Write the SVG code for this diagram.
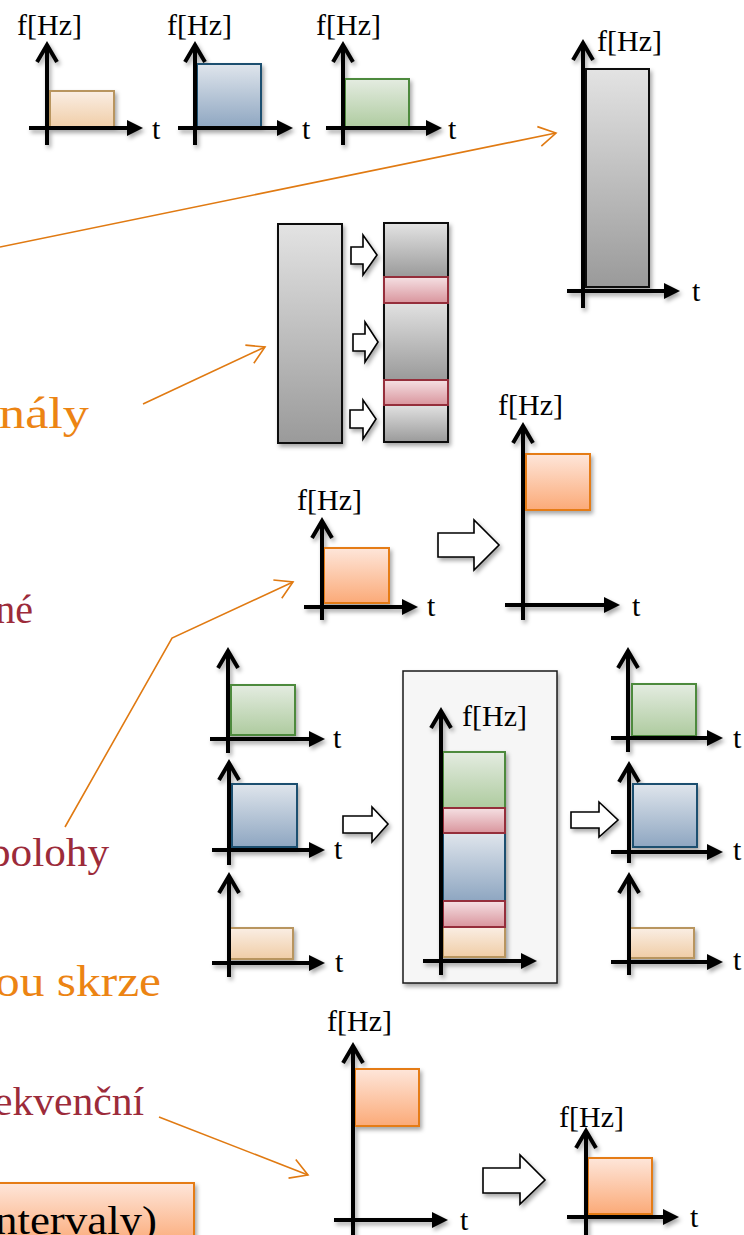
<svg xmlns="http://www.w3.org/2000/svg" width="744" height="1235" viewBox="0 0 744 1235">
  <defs>
    <style>
      .ax { fill: none; stroke: #000; stroke-width: 4; stroke-linejoin: miter; }
      .tri { fill: #000; }
      .lbl { font-family: "Liberation Serif", "Times New Roman", serif; font-size: 30px; fill: #000; }
      .bul { font-family: "Liberation Serif", "Times New Roman", serif; font-size: 40px; }
      .big { font-size: 44px; }
      .or { fill: #ec8413; }
      .rd { fill: #9c2b3a; }
      .blk { fill: #fff; stroke: #000; stroke-width: 1.6; stroke-linejoin: miter; }
      .beige { fill: url(#gBeige); stroke: #b8955e; stroke-width: 2; }
      .blue { fill: url(#gBlue); stroke: #1f4f70; stroke-width: 2; }
      .green { fill: url(#gGreen); stroke: #4e8a3e; stroke-width: 2; }
      .gray { fill: url(#gGray); stroke: #111; stroke-width: 2; }
      .red { fill: url(#gRed); stroke: #952d3a; stroke-width: 2; }
      .orange { fill: url(#gOrange); stroke: #e57c14; stroke-width: 2; }
      .con { fill: none; stroke: #e07a12; stroke-width: 1.6; marker-end: url(#oa); }
    </style>
    <linearGradient id="gBeige" x1="0" y1="0" x2="0" y2="1"><stop offset="0" stop-color="#faeee4"/><stop offset="1" stop-color="#f0cda6"/></linearGradient>
    <linearGradient id="gBlue" x1="0" y1="0" x2="0" y2="1"><stop offset="0" stop-color="#dfe5ec"/><stop offset="1" stop-color="#8ea6c1"/></linearGradient>
    <linearGradient id="gGreen" x1="0" y1="0" x2="0" y2="1"><stop offset="0" stop-color="#e4ece1"/><stop offset="1" stop-color="#aecb9f"/></linearGradient>
    <linearGradient id="gGray" x1="0" y1="0" x2="0" y2="1"><stop offset="0" stop-color="#e3e3e3"/><stop offset="1" stop-color="#9a9a9a"/></linearGradient>
    <linearGradient id="gRed" x1="0" y1="0" x2="0" y2="1"><stop offset="0" stop-color="#f5e0e3"/><stop offset="1" stop-color="#d9959d"/></linearGradient>
    <linearGradient id="gOrange" x1="0" y1="0" x2="0" y2="1"><stop offset="0" stop-color="#fee6da"/><stop offset="1" stop-color="#fbaa78"/></linearGradient>
    <filter id="sh" x="-20%" y="-20%" width="150%" height="150%">
      <feDropShadow dx="2" dy="3" stdDeviation="2" flood-color="#000" flood-opacity="0.35"/>
    </filter>
    <marker id="oa" markerUnits="userSpaceOnUse" markerWidth="24" markerHeight="24" refX="20" refY="12" orient="auto" viewBox="0 0 24 24">
      <path d="M3,2 L20,12 L3,22" fill="none" stroke="#e07a12" stroke-width="1.6"/>
    </marker>
  </defs>

  <!-- bullet text fragments -->
  <g id="bullets" class="bul">
    <text class="or big" x="89" y="428" text-anchor="end" textLength="90" lengthAdjust="spacingAndGlyphs">nály</text>
    <text class="rd" x="33" y="623" text-anchor="end">né</text>
    <text class="rd" x="109" y="866" text-anchor="end" textLength="120" lengthAdjust="spacingAndGlyphs">polohy</text>
    <text class="or big" x="161" y="996" text-anchor="end" textLength="166" lengthAdjust="spacingAndGlyphs">ou skrze</text>
    <text class="rd" x="144" y="1115" text-anchor="end" textLength="150" lengthAdjust="spacingAndGlyphs">ekvenční</text>
  </g>

  <g id="note-box">
    <rect x="-5" y="1183" width="199" height="62" fill="url(#gOrange)" stroke="#e57c14" stroke-width="2" filter="url(#sh)"/>
    <text class="bul" x="157" y="1234" text-anchor="end" fill="#000" textLength="162" lengthAdjust="spacingAndGlyphs">ntervaly)</text>
  </g>

  <!-- three separate signals -->
  <g id="sig-beige" filter="url(#sh)">
    <rect class="beige" x="50" y="91" width="64" height="37"/>
    <path class="ax" d="M47,145V45M37,62L47,45L57,62M29,128H131"/>
    <path class="tri" d="M143,128L127,120L127,136Z"/>
  </g>
  <text class="lbl" x="17" y="35">f[Hz]</text>
  <text class="lbl" x="152" y="139">t</text>

  <g id="sig-blue" filter="url(#sh)">
    <rect class="blue" x="197" y="64" width="64" height="64"/>
    <path class="ax" d="M195,145V45M185,62L195,45L205,62M178,128H281"/>
    <path class="tri" d="M293,128L277,120L277,136Z"/>
  </g>
  <text class="lbl" x="167" y="35">f[Hz]</text>
  <text class="lbl" x="302" y="139">t</text>

  <g id="sig-green" filter="url(#sh)">
    <rect class="green" x="345" y="79" width="64" height="49"/>
    <path class="ax" d="M343,145V45M333,62L343,45L353,62M326,128H430"/>
    <path class="tri" d="M442,128L426,120L426,136Z"/>
  </g>
  <text class="lbl" x="316" y="35">f[Hz]</text>
  <text class="lbl" x="448" y="139">t</text>

  <!-- wide band channel -->
  <g id="band" filter="url(#sh)">
    <rect class="gray" x="586" y="69" width="63" height="218"/>
    <path class="ax" d="M583,308V43M573,60L583,43L593,60M567,291H668"/>
    <path class="tri" d="M680,291L664,283L664,299Z"/>
  </g>
  <text class="lbl" x="597" y="51">f[Hz]</text>
  <text class="lbl" x="692" y="301">t</text>

  <!-- band split into sub-channels -->
  <g id="split" filter="url(#sh)">
    <rect class="gray" x="278" y="224" width="64" height="219"/>
    <rect class="gray" x="384" y="223" width="64" height="54"/>
    <rect class="gray" x="384" y="301" width="64" height="79"/>
    <rect class="gray" x="384" y="404" width="64" height="38"/>
    <rect class="red" x="384" y="277" width="64" height="26"/>
    <rect class="red" x="384" y="380" width="64" height="25"/>
  </g>

  <!-- frequency shift -->
  <g id="shift-in" filter="url(#sh)">
    <rect class="orange" x="324" y="548" width="65" height="55"/>
    <path class="ax" d="M322,620V521M312,538L322,521L332,538M304,607H406"/>
    <path class="tri" d="M418,607L402,599L402,615Z"/>
  </g>
  <text class="lbl" x="297" y="510">f[Hz]</text>
  <text class="lbl" x="427" y="616">t</text>

  <g id="shift-out" filter="url(#sh)">
    <rect class="orange" x="526" y="454" width="64" height="56"/>
    <path class="ax" d="M523,620V426M513,443L523,426L533,443M505,605H608"/>
    <path class="tri" d="M620,605L604,597L604,613Z"/>
  </g>
  <text class="lbl" x="498" y="415">f[Hz]</text>
  <text class="lbl" x="632" y="616">t</text>

  <!-- multiplexing inputs -->
  <g id="mux-green" filter="url(#sh)">
    <rect class="green" x="231" y="685" width="64" height="50"/>
    <path class="ax" d="M228,753V651M218,668L228,651L238,668M210,739H313"/>
    <path class="tri" d="M325,739L309,731L309,747Z"/>
  </g>
  <text class="lbl" x="333" y="748">t</text>

  <g id="mux-blue" filter="url(#sh)">
    <rect class="blue" x="232" y="784" width="65" height="63"/>
    <path class="ax" d="M229,865V763M219,780L229,763L239,780M212,850H313"/>
    <path class="tri" d="M325,850L309,842L309,858Z"/>
  </g>
  <text class="lbl" x="334" y="859">t</text>

  <g id="mux-beige" filter="url(#sh)">
    <rect class="beige" x="229" y="928" width="64" height="31"/>
    <path class="ax" d="M229,977V876M219,893L229,876L239,893M212,963H313"/>
    <path class="tri" d="M325,963L309,955L309,971Z"/>
  </g>
  <text class="lbl" x="335" y="972">t</text>

  <!-- multiplexed channel -->
  <g id="mux-panel">
    <rect x="403" y="671" width="154" height="312" fill="#f6f6f6" stroke="#1a1a1a" stroke-width="1.5" filter="url(#sh)"/>
    <g filter="url(#sh)">
      <rect class="green" x="443" y="752" width="62" height="56"/>
      <rect class="blue" x="443" y="833" width="62" height="68"/>
      <rect class="beige" x="443" y="927" width="62" height="30"/>
      <rect class="red" x="443" y="808" width="62" height="25"/>
      <rect class="red" x="443" y="901" width="62" height="26"/>
      <path class="ax" d="M441,975V711M431,728L441,711L451,728M423,961H525"/>
      <path class="tri" d="M537,961L521,953L521,969Z"/>
    </g>
    <text class="lbl" x="462" y="726">f[Hz]</text>
  </g>

  <!-- demultiplexed outputs -->
  <g id="demux-green" filter="url(#sh)">
    <rect class="green" x="632" y="684" width="64" height="52"/>
    <path class="ax" d="M628,752V651M618,668L628,651L638,668M611,738H711"/>
    <path class="tri" d="M723,738L707,730L707,746Z"/>
  </g>
  <text class="lbl" x="733" y="748">t</text>

  <g id="demux-blue" filter="url(#sh)">
    <rect class="blue" x="633" y="784" width="64" height="63"/>
    <path class="ax" d="M629,863V765M619,782L629,765L639,782M611,852H711"/>
    <path class="tri" d="M723,852L707,844L707,860Z"/>
  </g>
  <text class="lbl" x="733" y="860">t</text>

  <g id="demux-beige" filter="url(#sh)">
    <rect class="beige" x="630" y="928" width="64" height="30"/>
    <path class="ax" d="M629,975V876M619,893L629,876L639,893M611,962H711"/>
    <path class="tri" d="M723,962L707,954L707,970Z"/>
  </g>
  <text class="lbl" x="733" y="970">t</text>

  <!-- frequency hopping -->
  <g id="hop-high" filter="url(#sh)">
    <rect class="orange" x="355" y="1069" width="64" height="57"/>
    <path class="ax" d="M353,1240V1046M343,1063L353,1046L363,1063M334,1220H436"/>
    <path class="tri" d="M448,1220L432,1212L432,1228Z"/>
  </g>
  <text class="lbl" x="327" y="1031">f[Hz]</text>
  <text class="lbl" x="460" y="1230">t</text>

  <g id="hop-low" filter="url(#sh)">
    <rect class="orange" x="588" y="1158" width="64" height="56"/>
    <path class="ax" d="M586,1240V1131M576,1148L586,1131L596,1148M567,1217H667"/>
    <path class="tri" d="M679,1217L663,1209L663,1225Z"/>
  </g>
  <text class="lbl" x="559" y="1127">f[Hz]</text>
  <text class="lbl" x="690" y="1227">t</text>

  <!-- block arrows -->
  <g id="block-arrows" filter="url(#sh)">
    <path class="blk" d="M351,247H363V235L377,255L363,275V264H351Z"/>
    <path class="blk" d="M353,334H365V322L378,342L365,362V351H353Z"/>
    <path class="blk" d="M350,410H363V400L376,419L363,439V428H350Z"/>
    <path class="blk" d="M438,533H474V520L499,545L474,570V557H438Z"/>
    <path class="blk" d="M343,816H372V807L388,824L372,842V833H343Z"/>
    <path class="blk" d="M571,812H599V802L618,820L599,837V828H571Z"/>
    <path class="blk" d="M483,1168H520V1155L545,1180L520,1204V1193H483Z"/>
  </g>

  <!-- callout connectors -->
  <g id="connectors">
    <path class="con" d="M0,247L556,133"/>
    <path class="con" d="M143,404L265,347"/>
    <path class="con" d="M65,827L172,638L293,582"/>
    <path class="con" d="M159,1117L308,1175"/>
  </g>
</svg>
